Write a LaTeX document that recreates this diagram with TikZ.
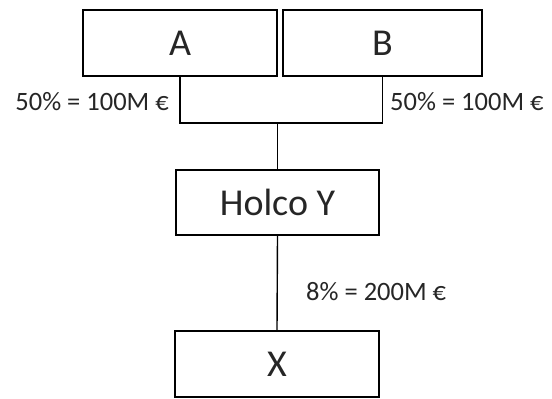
\documentclass[tikz,border=0pt]{standalone}
\usepackage{fontspec}
\setmainfont{Carlito}
\begin{document}
\begin{tikzpicture}[x=1pt, y=-1pt,
    every node/.style={rectangle, draw, line width=2.4pt, text=black!85, font=\fontsize{38}{40}\selectfont},
    share/.style={draw=none, inner sep=0pt, font=\fontsize{26.5}{28}\selectfont}]
  \useasboundingbox (0,0) rectangle (552,399);
  \node[minimum width=194pt, minimum height=66pt] (A) at (180, 43) {A};
  \node[minimum width=199pt, minimum height=66pt] (B) at (382.5, 43) {B};
  \node[minimum width=203pt, minimum height=65pt] (Y) at (277.5, 202.5) {Holco Y};
  \node[minimum width=204pt, minimum height=66pt] (X) at (277, 364) {X};
  \coordinate (j) at (277.5, 123);

  \draw[line width=1.4pt] (A.south) |- (j) -| (B.south);
  \draw[line width=1.4pt] (j) -- (Y.north);
  \draw[line width=1.4pt] (Y.south) -- (X.north);

  \node[share, anchor=east] (lA) at (170, 102) {50\% = 100M €};
  \node[share, anchor=west] (lB) at (389, 102) {50\% = 100M €};
  \node[share, anchor=west] (lY) at (305, 292) {8\% = 200M €};
\end{tikzpicture}
\end{document}
